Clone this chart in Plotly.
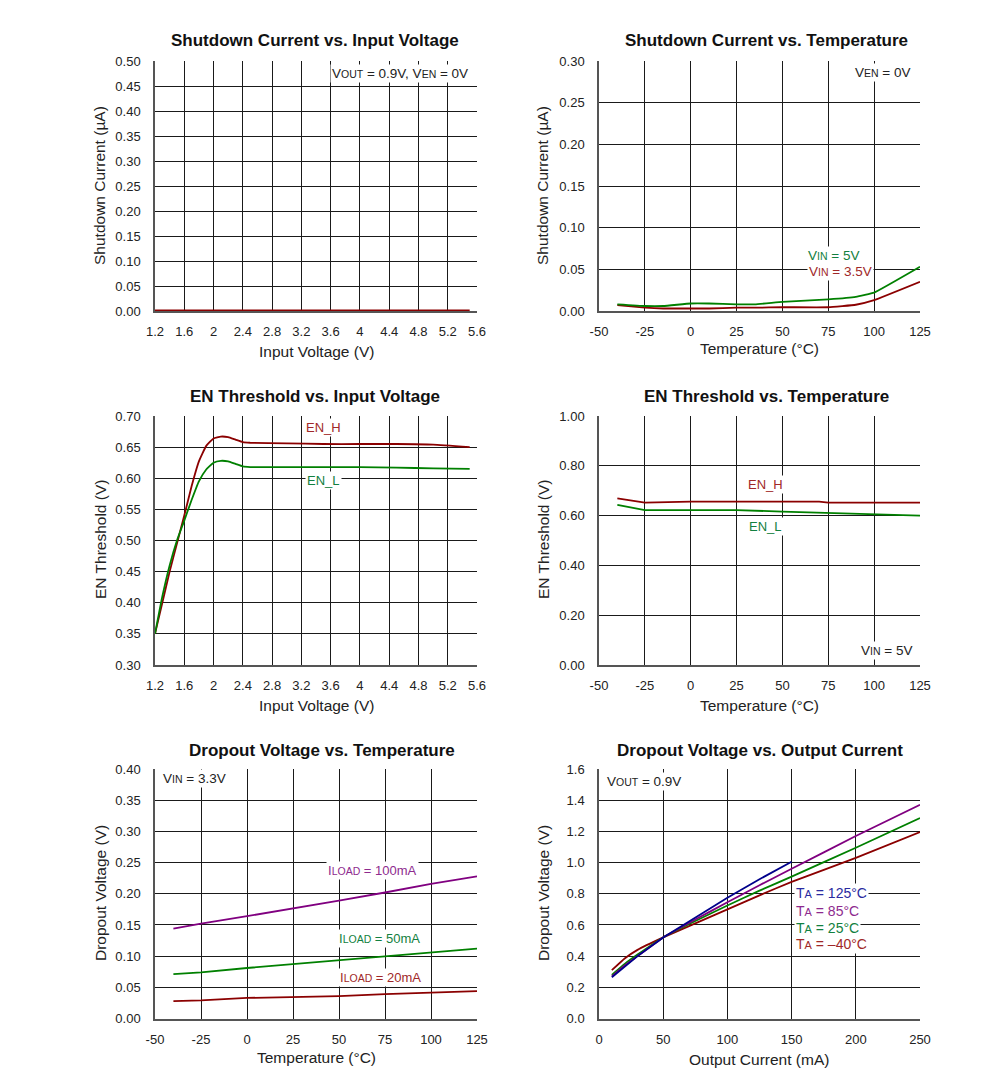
import plotly.graph_objects as go

W, H = 991, 1077
FONT = "Liberation Sans, Arial, sans-serif"
PAGE_OFFSET = 8  # browser body margin

# ---------------- data ----------------
# Panel 1: Shutdown current vs input voltage
p1_vin = [1.2, 1.6, 2.0, 2.4, 2.8, 3.2, 3.6, 4.0, 4.4, 4.8, 5.2, 5.5]
p1_isd = [0.001, 0.001, 0.001, 0.001, 0.001, 0.001, 0.001, 0.001, 0.001, 0.001, 0.001, 0.001]

# Panel 2: Shutdown current vs temperature
p2_temp = [-40, -25, -15, 0, 10, 25, 35, 50, 75, 90, 100, 125]
p2_vin5 = [0.008, 0.006, 0.006, 0.009, 0.009, 0.008, 0.008, 0.011, 0.014, 0.017, 0.022, 0.053]
p2_vin35 = [0.007, 0.004, 0.003, 0.003, 0.003, 0.004, 0.004, 0.0045, 0.0045, 0.0075, 0.013, 0.035]

# Panel 3: EN threshold vs input voltage
p3_vin = [1.2, 1.3, 1.4, 1.5, 1.6, 1.7, 1.8, 1.9, 2.0, 2.1, 2.2, 2.3, 2.4, 2.5, 3.0, 3.5, 4.0, 4.5, 5.0, 5.5]
p3_enh = [0.35, 0.40, 0.45, 0.495, 0.54, 0.587, 0.627, 0.652, 0.664, 0.667, 0.666, 0.662, 0.658, 0.657, 0.656, 0.655, 0.655, 0.655, 0.654, 0.650]
p3_enl = [0.35, 0.41, 0.46, 0.50, 0.532, 0.565, 0.595, 0.614, 0.625, 0.628, 0.627, 0.623, 0.619, 0.618, 0.618, 0.618, 0.618, 0.617, 0.616, 0.615]

# Panel 4: EN threshold vs temperature
p4_temp = [-40, -25, 0, 25, 50, 70, 75, 100, 125]
p4_enh = [0.669, 0.652, 0.656, 0.656, 0.656, 0.656, 0.652, 0.652, 0.652]
p4_enl = [0.643, 0.622, 0.622, 0.622, 0.616, 0.612, 0.609, 0.605, 0.600]

# Panel 5: Dropout voltage vs temperature
p5_temp = [-40, -25, 0, 25, 50, 75, 100, 125]
p5_100ma = [0.144, 0.152, 0.164, 0.176, 0.189, 0.202, 0.216, 0.228]
p5_50ma = [0.071, 0.074, 0.081, 0.087, 0.093, 0.100, 0.105, 0.112]
p5_20ma = [0.028, 0.029, 0.033, 0.034, 0.036, 0.039, 0.042, 0.044]

# Panel 6: Dropout voltage vs output current
p6_iout = [10, 20, 30, 50, 75, 100, 125, 150, 200, 250]
p6_m40 = [0.31, 0.385, 0.44, 0.52, 0.61, 0.70, 0.79, 0.876, 1.03, 1.195]
p6_25 = [0.28, 0.35, 0.41, 0.52, 0.625, 0.725, 0.82, 0.91, 1.095, 1.285]
p6_85 = [0.27, 0.34, 0.40, 0.52, 0.635, 0.745, 0.855, 0.96, 1.17, 1.37]
p6_125_iout = [10, 20, 30, 50, 75, 100, 125, 150]
p6_125 = [0.265, 0.335, 0.40, 0.52, 0.65, 0.775, 0.893, 1.005]

# ---------------- layout geometry ----------------
def px_x(px):
    return (px - PAGE_OFFSET) / W

def px_y(py):
    return 1 - (py - PAGE_OFFSET) / H

LX = [px_x(155), px_x(477)]
RX = [px_x(599), px_x(920)]
ROWS = [[px_y(311), px_y(61)], [px_y(665), px_y(416)], [px_y(1018.5), px_y(769)]]

RED = "#8B0000"
GREEN = "#008000"
PURPLE = "#800080"
BLUE = "#00008B"
RED_T = "#A02828"
GREEN_T = "#128040"
PURPLE_T = "#8E2A8E"
BLUE_T = "#2A2AA0"

fig = go.Figure()

def add_line(x, y, color, ax, smooth=0.0):
    line = dict(color=color, width=1.8)
    if smooth > 0:
        line.update(shape="spline", smoothing=smooth)
    fig.add_trace(go.Scatter(x=x, y=y, mode="lines", line=line,
                             xaxis="x" + ax, yaxis="y" + ax, showlegend=False, hoverinfo="skip"))

add_line(p1_vin, p1_isd, RED, "1")
add_line(p2_temp, p2_vin35, RED, "2", 0.3)
add_line(p2_temp, p2_vin5, GREEN, "2", 0.3)
add_line(p3_vin, p3_enh, RED, "3", 0.4)
add_line(p3_vin, p3_enl, GREEN, "3", 0.4)
add_line(p4_temp, p4_enh, RED, "4")
add_line(p4_temp, p4_enl, GREEN, "4")
add_line(p5_temp, p5_20ma, RED, "5")
add_line(p5_temp, p5_50ma, GREEN, "5")
add_line(p5_temp, p5_100ma, PURPLE, "5")
add_line(p6_iout, p6_m40, RED, "6", 0.3)
add_line(p6_iout, p6_25, GREEN, "6", 0.3)
add_line(p6_iout, p6_85, PURPLE, "6", 0.3)
add_line(p6_125_iout, p6_125, BLUE, "6")

tickfont = dict(family=FONT, size=13, color="#222222")

def axis(domain, anchor, rng, tickvals, ticktext, standoff):
    return dict(domain=domain, anchor=anchor, range=rng, tickvals=tickvals, ticktext=ticktext,
                showgrid=True, gridcolor="#1a1a1a", gridwidth=1, zeroline=False,
                showline=True, linecolor="#555555", linewidth=1.5, mirror=False, automargin=False,
                ticks="", ticklabelstandoff=standoff, tickfont=tickfont, fixedrange=True)

def fmt(vals, f):
    return [format(v, f) for v in vals]

x_vin_vals = [1.2, 1.6, 2.0, 2.4, 2.8, 3.2, 3.6, 4.0, 4.4, 4.8, 5.2, 5.6]
x_vin_text = ["1.2", "1.6", "2", "2.4", "2.8", "3.2", "3.6", "4", "4.4", "4.8", "5.2", "5.6"]
x_temp_vals = [-50, -25, 0, 25, 50, 75, 100, 125]
x_temp_text = [str(v) for v in x_temp_vals]

y1 = [i * 0.05 for i in range(11)]
y2 = [i * 0.05 for i in range(7)]
y3 = [0.30 + i * 0.05 for i in range(9)]
y4 = [i * 0.2 for i in range(6)]
y5 = [i * 0.05 for i in range(9)]
y6 = [i * 0.2 for i in range(9)]
x6 = [0, 50, 100, 150, 200, 250]

XS, YS = 8, 10
fig.update_layout(
    template="none",
    width=W, height=H, autosize=False, margin=dict(l=0, r=0, t=0, b=0, pad=0),
    paper_bgcolor="white", plot_bgcolor="white", showlegend=False,
    font=dict(family=FONT, color="#222222"),
    xaxis=axis(LX, "y", [1.2, 5.6], x_vin_vals, x_vin_text, XS),
    yaxis=axis(ROWS[0], "x", [0, 0.5], y1, fmt(y1, ".2f"), YS),
    xaxis2=axis(RX, "y2", [-50, 125], x_temp_vals, x_temp_text, XS),
    yaxis2=axis(ROWS[0], "x2", [0, 0.3], y2, fmt(y2, ".2f"), YS),
    xaxis3=axis(LX, "y3", [1.2, 5.6], x_vin_vals, x_vin_text, XS),
    yaxis3=axis(ROWS[1], "x3", [0.3, 0.7], y3, fmt(y3, ".2f"), YS),
    xaxis4=axis(RX, "y4", [-50, 125], x_temp_vals, x_temp_text, XS),
    yaxis4=axis(ROWS[1], "x4", [0, 1.0], y4, fmt(y4, ".2f"), YS),
    xaxis5=axis(LX, "y5", [-50, 125], x_temp_vals, x_temp_text, XS),
    yaxis5=axis(ROWS[2], "x5", [0, 0.4], y5, fmt(y5, ".2f"), YS),
    xaxis6=axis(RX, "y6", [0, 250], x6, [str(v) for v in x6], XS),
    yaxis6=axis(ROWS[2], "x6", [0, 1.6], y6, fmt(y6, ".1f"), YS),
)

def sub(s, size=10.5):
    return "<span style='font-size:%spx'>%s</span>" % (size, s)

ann = []

def note(text, x, y, xref, yref, color="#222222", xanchor="center", yanchor="middle", size=13):
    ann.append(dict(text=text, x=x, y=y, xref=xref, yref=yref, showarrow=False, xanchor=xanchor,
                    yanchor=yanchor, font=dict(family=FONT, size=size, color=color), bgcolor="white", borderpad=1))

# Titles
titles = [("Shutdown Current vs. Input Voltage", 315, 41), ("Shutdown Current vs. Temperature", 766, 41),
          ("EN Threshold vs. Input Voltage", 315, 396), ("EN Threshold vs. Temperature", 766, 396),
          ("Dropout Voltage vs. Temperature", 322, 750), ("Dropout Voltage vs. Output Current", 760, 750)]
for t, x, y in titles:
    ann.append(dict(text="<b>" + t + "</b>", x=px_x(x), y=px_y(y), xref="paper", yref="paper", showarrow=False,
                    xanchor="center", yanchor="middle", font=dict(family=FONT, size=17, color="#111111")))

# Axis titles
xt = [("Input Voltage (V)", 316, 351), ("Temperature (°C)", 759, 349), ("Input Voltage (V)", 316, 705),
      ("Temperature (°C)", 759, 705), ("Temperature (°C)", 316, 1057), ("Output Current (mA)", 759, 1059)]
for t, x, y in xt:
    ann.append(dict(text=t, x=px_x(x), y=px_y(y), xref="paper", yref="paper", showarrow=False,
                    xanchor="center", yanchor="middle", font=dict(family=FONT, size=15.5, color="#222222")))
yt = [("Shutdown Current (µA)", 100, 186), ("Shutdown Current (µA)", 543, 186),
      ("EN Threshold (V)", 100, 540), ("EN Threshold (V)", 543, 540),
      ("Dropout Voltage (V)", 100, 893), ("Dropout Voltage (V)", 543, 893)]
for t, x, y in yt:
    ann.append(dict(text=t, x=px_x(x), y=px_y(y), xref="paper", yref="paper", showarrow=False, textangle=-90,
                    xanchor="center", yanchor="middle", font=dict(family=FONT, size=15.5, color="#222222")))

# Condition labels
note("V" + sub("OUT") + " = 0.9V, V" + sub("EN") + " = 0V", 0.978, 0.952, "x domain", "y domain", xanchor="right", size=13.5)
note("V" + sub("EN") + " = 0V", 0.978, 0.954, "x2 domain", "y2 domain", xanchor="right", size=13.5)
note("V" + sub("IN") + " = 5V", 0.98, 0.06, "x4 domain", "y4 domain", xanchor="right", size=13.5)
note("V" + sub("IN") + " = 3.3V", 0.02, 0.96, "x5 domain", "y5 domain", xanchor="left", size=13.5)
note("V" + sub("OUT") + " = 0.9V", 0.02, 0.948, "x6 domain", "y6 domain", xanchor="left", size=13.5)

# Series labels
note("V" + sub("IN") + " = 5V", 78, 0.0665, "x2", "y2", color=GREEN_T, size=13.5)
note("V" + sub("IN") + " = 3.5V", 81.4, 0.047, "x2", "y2", color=RED_T, size=13.5)
note("EN_H", 3.5, 0.681, "x3", "y3", color=RED_T)
note("EN_L", 3.5, 0.597, "x3", "y3", color=GREEN_T)
note("EN_H", 40.5, 0.723, "x4", "y4", color=RED_T)
note("EN_L", 40.5, 0.558, "x4", "y4", color=GREEN_T)
note("I" + sub("LOAD") + " = 100mA", 68.3, 0.2365, "x5", "y5", color=PURPLE_T)
note("I" + sub("LOAD") + " = 50mA", 72, 0.129, "x5", "y5", color=GREEN_T)
note("I" + sub("LOAD") + " = 20mA", 72.7, 0.0665, "x5", "y5", color=RED_T)
TA = 14
note("T" + sub("A", 11) + " = 125°C", 151.6, 0.805, "x6", "y6", color=BLUE_T, xanchor="left", size=TA)
note("T" + sub("A", 11) + " = 85°C", 151.6, 0.689, "x6", "y6", color=PURPLE_T, xanchor="left", size=TA)
note("T" + sub("A", 11) + " = 25°C", 151.6, 0.58, "x6", "y6", color=GREEN_T, xanchor="left", size=TA)
note("T" + sub("A", 11) + " = –40°C", 151.6, 0.478, "x6", "y6", color=RED_T, xanchor="left", size=TA)

fig.update_layout(annotations=ann)
fig.write_html("out.html")
